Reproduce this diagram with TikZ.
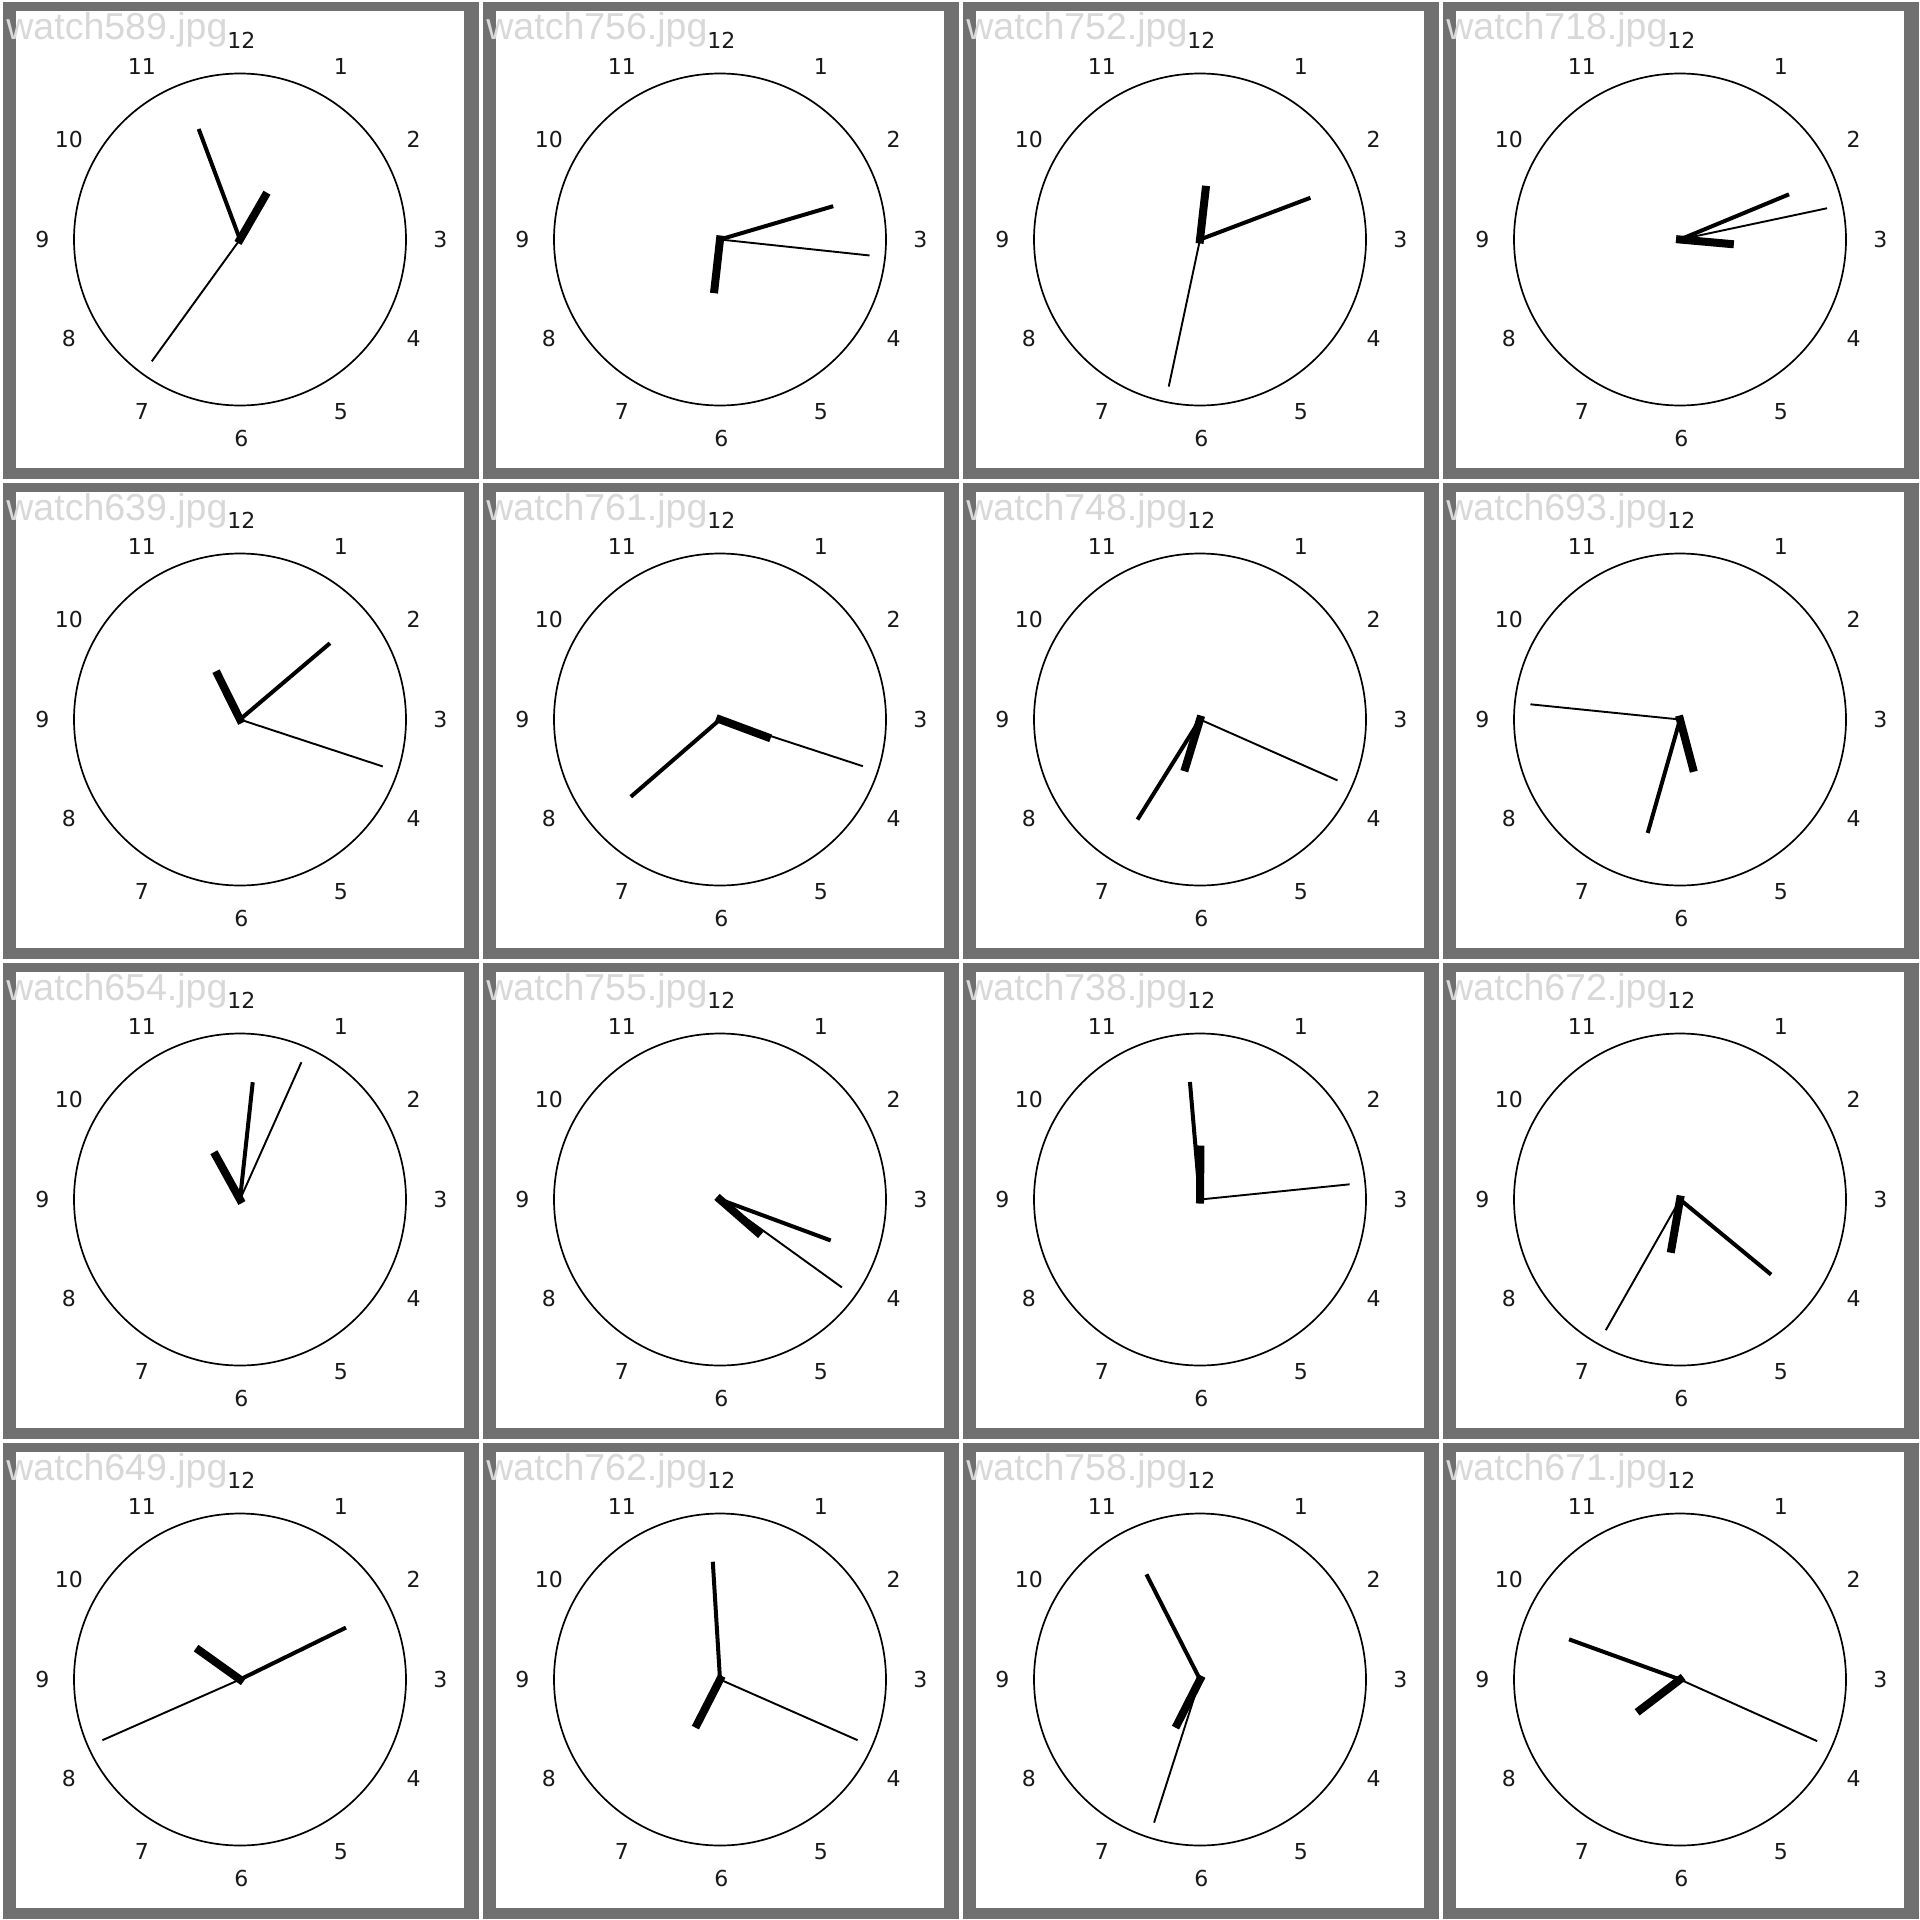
\documentclass[tikz,border=0pt]{standalone}
\usepackage{fontspec}
\setmainfont{DejaVu Sans}
\newfontfamily\labfont{Liberation Sans}
\definecolor{framegray}{RGB}{112,112,112}
\definecolor{labelgray}{RGB}{216,216,216}
\begin{document}
\begin{tikzpicture}[x=0.5pt,y=-0.5pt,
  frame/.style={fill=framegray},
  face/.style={draw=black,line width=0.85pt},
  hourhand/.style={line width=4pt,line cap=rect},
  minutehand/.style={line width=2pt,line cap=rect},
  secondhand/.style={line width=0.95pt,line cap=rect},
  numlabel/.style={inner sep=0pt,text=black!90,font=\fontsize{11}{13}\selectfont},
  filelabel/.style={inner sep=0pt,anchor=base west,text=labelgray,font=\labfont\fontsize{18.75}{22}\selectfont}]
\useasboundingbox (0,0) rectangle (1920,1920);
\fill[white] (0,0) rectangle (1920,1920);
\foreach \r/\c/\n/\h/\m/\s [count=\i] in {
  0/0/589/30/339.5/215.9,
  0/1/756/186.4/73.6/96.1,
  0/2/752/6.4/69.3/192.0,
  0/3/718/95.1/67.5/78.0,
  1/0/639/333.6/49.7/108.2,
  1/1/761/110.4/229.1/108.1,
  1/2/748/196.9/212.0/113.9,
  1/3/693/165.2/195.9/275.8,
  2/0/654/331.1/6.2/24.1,
  2/1/755/131.1/110.3/125.8,
  2/2/738/0.5/355.1/84.2,
  2/3/672/189.9/129.5/209.6,
  3/0/649/305.6/63.9/246.2,
  3/1/762/207.1/356.5/113.8,
  3/2/758/207/333/197.8,
  3/3/671/232.6/289.9/114.2}{
  \pgfmathsetmacro{\X}{480*\c}
  \pgfmathsetmacro{\Y}{480*\r}
  \fill[frame] (\X+2.5,\Y+2.5) rectangle (\X+478.5,\Y+478.5);
  \fill[white] (\X+15.5,\Y+11.5) rectangle (\X+464,\Y+468);
  \coordinate (c\i) at (\X+240,\Y+239.5);
  \draw[face] (c\i) circle[radius=166];
  \foreach \k in {1,...,12}{
    \node[numlabel] (n\i-\k) at ({\X+241.3+199*sin(30*\k)},{\Y+239-199*cos(30*\k)}) {\k};
  }
  \coordinate (h\i) at ({\X+240+50*sin(\h)},{\Y+239.5-50*cos(\h)});
  \coordinate (m\i) at ({\X+240+116*sin(\m)},{\Y+239.5-116*cos(\m)});
  \coordinate (s\i) at ({\X+240+149.4*sin(\s)},{\Y+239.5-149.4*cos(\s)});
  \draw[hourhand] (c\i) -- (h\i);
  \draw[minutehand] (c\i) -- (m\i);
  \draw[secondhand] (c\i) -- (s\i);
  \node[filelabel] (l\i) at (\X+6,\Y+40) {watch\n.jpg};
}
\end{tikzpicture}
\end{document}
